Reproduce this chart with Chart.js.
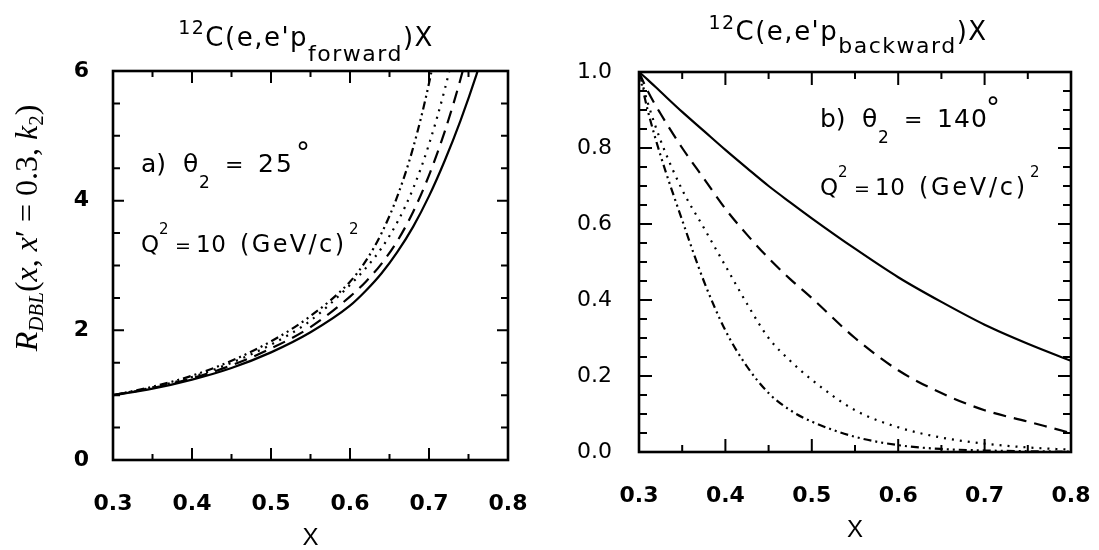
<!DOCTYPE html>
<html>
<head>
<meta charset="utf-8">
<script src="https://cdn.jsdelivr.net/npm/chart.js@4.4.0/dist/chart.umd.min.js"></script>
<style>
  html, body { margin: 0; padding: 0; background: #fff; }
  #wrap { position: relative; width: 1099px; height: 550px; overflow: hidden; }
  .panel { position: absolute; top: 0; width: 550px; height: 550px; }
  #pa { left: 0; }
  #pb { left: 549px; }
</style>
</head>
<body>
<div id="wrap">
  <div class="panel" id="pa"><canvas id="ca" width="550" height="550"></canvas></div>
  <div class="panel" id="pb"><canvas id="cb" width="550" height="550"></canvas></div>
</div>
<script>
// ---- panel a: forward proton, theta2 = 25 deg ----
const xA = [0.30, 0.35, 0.40, 0.45, 0.50, 0.55, 0.60, 0.62, 0.64, 0.66, 0.68, 0.70, 0.72, 0.74, 0.76, 0.78];
const aSolid   = [1.00, 1.10, 1.24, 1.42, 1.66, 1.97, 2.38, 2.61, 2.88, 3.21, 3.60, 4.07, 4.62, 5.24, 5.94, 6.74];
const aDashed  = [1.00, 1.11, 1.26, 1.46, 1.72, 2.05, 2.52, 2.75, 3.03, 3.38, 3.83, 4.39, 5.07, 5.88, 6.83, null];
const aDotted  = [1.00, 1.12, 1.28, 1.50, 1.78, 2.15, 2.70, 2.96, 3.27, 3.67, 4.19, 4.87, 5.72, 6.75, null, null];
const aDashDot = [1.00, 1.13, 1.30, 1.53, 1.83, 2.22, 2.75, 3.07, 3.50, 4.07, 4.82, 5.81, 7.07, null, null, null];

// ---- panel b: backward proton, theta2 = 140 deg ----
const xB = [0.30, 0.31, 0.325, 0.35, 0.375, 0.40, 0.425, 0.45, 0.475, 0.50, 0.55, 0.60, 0.65, 0.70, 0.75, 0.80];
const bSolid   = [1.00, 0.980, 0.948, 0.895, 0.845, 0.795, 0.747, 0.700, 0.657, 0.615, 0.535, 0.460, 0.395, 0.335, 0.285, 0.240];
const bDashed  = [1.00, 0.950, 0.890, 0.800, 0.720, 0.640, 0.572, 0.510, 0.455, 0.405, 0.300, 0.215, 0.155, 0.110, 0.080, 0.050];
const bDotted  = [1.00, 0.920, 0.820, 0.690, 0.590, 0.490, 0.390, 0.300, 0.240, 0.190, 0.110, 0.065, 0.038, 0.022, 0.012, 0.006];
const bDashDot = [1.00, 0.900, 0.780, 0.610, 0.450, 0.320, 0.225, 0.155, 0.110, 0.080, 0.040, 0.018, 0.008, 0.004, 0.002, 0.001];

// ---- tick labels ----
const xTickLabels  = ['0.3', '0.4', '0.5', '0.6', '0.7', '0.8'];
const yTickLabelsA = ['0', '2', '4', '6'];
const yTickLabelsB = ['0.0', '0.2', '0.4', '0.6', '0.8', '1.0'];

const SANS = '"DejaVu Sans", "Liberation Sans", sans-serif';
const SERIF = '"Liberation Serif", "DejaVu Serif", serif';

// line styles shared by both panels
const STYLES = {
  solid:   [],
  dashed:  [13, 8],
  dotted:  [2, 6],
  dashdot: [8, 4, 2, 4, 2, 4]
};

function series(xs, ys, dash) {
  return {
    data: xs.map((x, i) => ({ x: x, y: ys[i] })),
    borderColor: '#000',
    borderWidth: 2.2,
    borderDash: dash,
    pointRadius: 0,
    fill: false,
    spanGaps: false,
    cubicInterpolationMode: 'monotone'
  };
}

function setFont(ctx, r) {
  ctx.font = (r.style || 'normal') + ' ' + (r.weight || 'normal') + ' ' + r.s + 'px ' + (r.family || SANS);
}

// draw a piece of text at a fixed spot, optionally stretched to a width
function txt(ctx, s, x, y, size, opt) {
  opt = opt || {};
  setFont(ctx, { s: size, style: opt.style, weight: opt.weight, family: opt.family });
  ctx.letterSpacing = '0px';
  if (opt.w && s.length > 1) {
    const m = ctx.measureText(s).width;
    ctx.letterSpacing = ((opt.w - m) / (s.length - 1)) + 'px';
  }
  ctx.textAlign = 'left';
  ctx.textBaseline = 'alphabetic';
  ctx.fillStyle = '#000';
  ctx.fillText(s, x, y);
  ctx.letterSpacing = '0px';
}

// draw consecutive runs (with sub/superscripts) centred on cx
function runLine(ctx, runs, cx, baseline, ls) {
  ctx.letterSpacing = ls + 'px';
  let total = 0;
  runs.forEach(r => { setFont(ctx, r); r.w = ctx.measureText(r.t).width; total += r.w; });
  let x = cx - total / 2;
  ctx.textAlign = 'left';
  ctx.textBaseline = 'alphabetic';
  ctx.fillStyle = '#000';
  runs.forEach(r => { setFont(ctx, r); ctx.fillText(r.t, x, baseline + (r.dy || 0)); x += r.w; });
  ctx.letterSpacing = '0px';
}

// frame on all four sides with inward-pointing ticks, placed through the chart scales
const frameTicks = {
  id: 'frameTicks',
  afterDatasetsDraw(chart, args, o) {
    const { ctx, chartArea: a, scales } = chart;
    const xs = scales.x, ys = scales.y;
    ctx.save();
    ctx.strokeStyle = '#000';
    ctx.lineCap = 'butt';
    ctx.lineWidth = 2;
    const eps = 1e-6;
    for (let v = xs.min + o.xMinor; v < xs.max - eps; v += o.xMinor) {
      const major = Math.abs(v / o.xMajor - Math.round(v / o.xMajor)) < 1e-3;
      const L = major ? o.xMajorLen : o.xMinorLen;
      const px = xs.getPixelForValue(v);
      ctx.beginPath();
      ctx.moveTo(px, a.bottom); ctx.lineTo(px, a.bottom - L);
      ctx.moveTo(px, a.top); ctx.lineTo(px, a.top + L);
      ctx.stroke();
    }
    for (let v = ys.min + o.yMinor; v < ys.max - eps; v += o.yMinor) {
      const major = Math.abs(v / o.yMajor - Math.round(v / o.yMajor)) < 1e-3;
      const L = major ? o.yMajorLen : o.yMinorLen;
      const py = ys.getPixelForValue(v);
      ctx.beginPath();
      ctx.moveTo(a.left, py); ctx.lineTo(a.left + L, py);
      ctx.moveTo(a.right, py); ctx.lineTo(a.right - L, py);
      ctx.stroke();
    }
    ctx.lineWidth = 2.6;
    ctx.strokeRect(a.left, a.top, a.right - a.left, a.bottom - a.top);
    ctx.restore();
  }
};

// titles, panel annotations and the y-axis symbol
const labelsPlugin = {
  id: 'panelText',
  afterDraw(chart, args, o) {
    const ctx = chart.ctx;
    ctx.save();
    o.draw(ctx);
    ctx.restore();
  }
};

function makeChart(id, xs, sets, yMin, yMax, yLabels, layout, textDraw, tickOpts, xTitlePad, yLabelWeight) {
  const xVals = xTickLabels.map(Number);
  const yVals = yLabels.map(Number);
  return new Chart(document.getElementById(id), {
    type: 'line',
    data: {
      datasets: [
        series(xs, sets[0], STYLES.solid),
        series(xs, sets[1], STYLES.dashed),
        series(xs, sets[2], STYLES.dotted),
        series(xs, sets[3], STYLES.dashdot)
      ]
    },
    options: {
      responsive: false,
      animation: false,
      events: [],
      devicePixelRatio: 1,
      layout: { padding: { left: 0, right: layout.right, top: layout.top, bottom: 0 } },
      scales: {
        x: {
          type: 'linear',
          min: 0.3, max: 0.8,
          grid: { display: false, drawTicks: false },
          border: { display: false },
          afterBuildTicks: s => { s.ticks = xVals.map(v => ({ value: v })); },
          ticks: {
            color: '#000',
            font: { family: SANS, size: 22, weight: 'bold' },
            padding: 31,
            maxRotation: 0,
            autoSkip: false,
            callback: (v, i) => xTickLabels[i]
          },
          title: {
            display: true,
            text: 'X',
            color: '#000',
            font: { family: '"Liberation Sans", sans-serif', size: 24, weight: 'normal' },
            padding: { top: 0, bottom: xTitlePad }
          },
          afterFit: s => {
            s.height = layout.xHeight;
            s.paddingLeft = 0; s.paddingRight = 0;
          }
        },
        y: {
          type: 'linear',
          min: yMin, max: yMax,
          grid: { display: false, drawTicks: false },
          border: { display: false },
          afterBuildTicks: s => { s.ticks = yVals.map(v => ({ value: v })); },
          ticks: {
            color: '#000',
            font: { family: SANS, size: 22, weight: yLabelWeight },
            padding: layout.yPad,
            autoSkip: false,
            callback: (v, i) => yLabels[i]
          },
          afterFit: s => {
            s.width = layout.yWidth;
            s.paddingTop = 0; s.paddingBottom = 0;
          }
        }
      },
      plugins: {
        legend: { display: false },
        tooltip: { enabled: false },
        frameTicks: tickOpts,
        panelText: { draw: textDraw }
      }
    },
    plugins: [frameTicks, labelsPlugin]
  });
}

// ---- panel a ----
makeChart('ca', xA, [aSolid, aDashed, aDotted, aDashDot], 0, 6, yTickLabelsA,
  { right: 42, top: 71, xHeight: 90, yWidth: 113, yPad: 24 },
  ctx => {
    // title
    runLine(ctx, [
      { t: '12', s: 19, dy: -12 },
      { t: "C(e,e'p", s: 26 },
      { t: 'forward', s: 22, dy: 15 },
      { t: ')X', s: 26 }
    ], 306, 46, 1.5);
    // annotation
    txt(ctx, 'a)', 141, 172, 25);
    txt(ctx, 'θ', 183, 172, 25);
    txt(ctx, '2', 199, 188, 17);
    txt(ctx, '=', 225, 172, 22);
    txt(ctx, '25', 258, 172, 25, { w: 34 });
    txt(ctx, '°', 296, 162, 28);
    txt(ctx, 'Q', 141, 252, 23);
    txt(ctx, '2', 159, 234, 15);
    txt(ctx, '=', 175, 252, 19);
    txt(ctx, '10', 196, 252, 23, { w: 30 });
    txt(ctx, '(GeV/c)', 240, 252, 24, { w: 104 });
    txt(ctx, '2', 349, 234, 15);
    // y-axis symbol, rotated
    ctx.save();
    ctx.translate(37, 0);
    ctx.rotate(-Math.PI / 2);
    const runs = [
      { t: 'R', s: 32, style: 'italic', family: SERIF },
      { t: 'DBL', s: 21, style: 'italic', family: SERIF, dy: 6 },
      { t: '(', s: 32, family: SERIF },
      { t: 'x', s: 32, style: 'italic', family: SERIF },
      { t: ', ', s: 32, family: SERIF },
      { t: 'x', s: 32, style: 'italic', family: SERIF },
      { t: '′', s: 32, family: SERIF },
      { t: ' = 0.3, ', s: 32, family: SERIF },
      { t: 'k', s: 32, style: 'italic', family: SERIF },
      { t: '2', s: 21, family: SERIF, dy: 6 },
      { t: ')', s: 32, family: SERIF }
    ];
    runLine(ctx, runs, -228, 0, 0);
    ctx.restore();
  },
  { xMinor: 0.05, xMajor: 0.1, yMinor: 0.5, yMajor: 2, xMajorLen: 12, xMinorLen: 6, yMajorLen: 11, yMinorLen: 7 },
  -3, 'bold');

// ---- panel b ----
makeChart('cb', xB, [bSolid, bDashed, bDotted, bDashDot], 0, 1, yTickLabelsB,
  { right: 28, top: 72, xHeight: 98, yWidth: 90, yPad: 27 },
  ctx => {
    runLine(ctx, [
      { t: '12', s: 19, dy: -11 },
      { t: "C(e,e'p", s: 26 },
      { t: 'backward', s: 22, dy: 13 },
      { t: ')X', s: 26 }
    ], 299, 40, 1.5);
    txt(ctx, 'b)', 271, 127, 25);
    txt(ctx, 'θ', 313, 127, 25);
    txt(ctx, '2', 329, 143, 17);
    txt(ctx, '=', 355, 127, 22);
    txt(ctx, '140', 388, 127, 25, { w: 50 });
    txt(ctx, '°', 437, 117, 28);
    txt(ctx, 'Q', 271, 195, 23);
    txt(ctx, '2', 289, 177, 15);
    txt(ctx, '=', 305, 195, 19);
    txt(ctx, '10', 326, 195, 23, { w: 30 });
    txt(ctx, '(GeV/c)', 370, 195, 24, { w: 106 });
    txt(ctx, '2', 481, 177, 15);
  },
  { xMinor: 0.05, xMajor: 0.1, yMinor: 0.05, yMajor: 0.2, xMajorLen: 13, xMinorLen: 7, yMajorLen: 13, yMinorLen: 8 },
  5, 'normal');
</script>
</body>
</html>
